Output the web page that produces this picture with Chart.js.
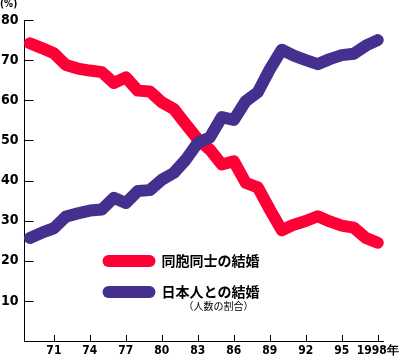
<!DOCTYPE html>
<html><head><meta charset="utf-8">
<script src="https://cdn.jsdelivr.net/npm/chart.js@4/dist/chart.umd.min.js"></script>
<style>html,body{margin:0;padding:0;background:#fff;}#wrap{width:402px;height:356px;}</style>
</head><body><div id="wrap"><canvas id="c" width="402" height="356"></canvas></div>
<script>
const years = [1969,1970,1971,1972,1973,1974,1975,1976,1977,1978,1979,1980,1981,1982,1983,1984,1985,1986,1987,1988,1989,1990,1991,1992,1993,1994,1995,1996,1997,1998];
const sameEthnic = [74.2,73,71.7,68.8,67.9,67.4,67,64.3,65.7,62.4,62.2,59.5,57.8,54,50.3,47.7,44,44.8,39.4,38.3,32.8,27.6,29,29.9,31.1,29.8,28.75,28.25,25.7,24.5];
const withJapanese = [25.7,27,28.1,31,31.8,32.5,32.75,35.7,34.4,37.4,37.6,40.2,41.9,45.2,49.4,50.7,55.8,55.1,59.8,62,67.7,72.6,71.1,70,69,70.25,71.25,71.6,73.6,75];
const xTickValues = [1971,1974,1977,1980,1983,1986,1989,1992,1995,1998];
const xTickLabels = ['71','74','77','80','83','86','89','92','95','1998年'];
const yTickValues = [10,20,30,40,50,60,70,80];
const seriesNames = ['同胞同士の結婚','日本人との結婚'];
const seriesNote = '（人数の割合）';
const unitLabel = '(%)';

const RED = '#ff0036', PURPLE = '#452f8f';
const NUM_FONT = '"DejaVu Sans Condensed","DejaVu Sans",sans-serif';
const JP_FONT = '"Noto Sans CJK JP",sans-serif';

const extras = {
  id: 'extras',
  beforeDatasetsDraw(chart) {
    const {ctx, chartArea:a, scales:{x, y}} = chart;
    ctx.save();
    ctx.strokeStyle = '#000'; ctx.lineWidth = 1;
    ctx.beginPath();
    yTickValues.forEach(v => { const p = Math.round(y.getPixelForValue(v)) + 0.5; ctx.moveTo(a.left, p); ctx.lineTo(a.left + 9, p); });
    xTickValues.forEach(v => { const p = Math.round(x.getPixelForValue(v)) + 0.5; ctx.moveTo(p, a.bottom); ctx.lineTo(p, a.bottom - 6); });
    ctx.stroke();
    ctx.fillStyle = '#000';
    ctx.font = 'bold 10px ' + NUM_FONT;
    ctx.textAlign = 'left'; ctx.textBaseline = 'top';
    ctx.fillText(unitLabel, 0, -1);
    ctx.restore();
  },
  afterDraw(chart) {
    const {ctx, chartArea:a} = chart;
    const ds = chart.data.datasets;
    ctx.save();
    const x0 = a.left + 78, x1 = a.left + 131;
    const rows = [{i:0, y: a.top + 241}, {i:1, y: a.top + 272}];
    rows.forEach(r => {
      ctx.strokeStyle = ds[r.i].borderColor; ctx.lineWidth = 12; ctx.lineCap = 'round';
      ctx.beginPath(); ctx.moveTo(x0 + 6, r.y); ctx.lineTo(x1 - 6, r.y); ctx.stroke();
      ctx.fillStyle = '#000'; ctx.font = 'bold 14px ' + JP_FONT;
      ctx.textAlign = 'left'; ctx.textBaseline = 'middle';
      ctx.fillText(ds[r.i].label, x1 + 6, r.y);
    });
    ctx.font = '10px ' + JP_FONT; ctx.textBaseline = 'middle';
    ctx.fillText(seriesNote, x1 + 28, a.top + 286);
    ctx.restore();
  }
};

new Chart(document.getElementById('c'), {
  type: 'line',
  data: {
    labels: years,
    datasets: [
      {label: seriesNames[0], data: years.map((yr,i)=>({x:yr, y:sameEthnic[i]})), borderColor: RED, order: 2},
      {label: seriesNames[1], data: years.map((yr,i)=>({x:yr, y:withJapanese[i]})), borderColor: PURPLE, order: 1}
    ].map(d => Object.assign(d, {borderWidth: 12, pointRadius: 0, tension: 0, fill: false, borderCapStyle: 'round', borderJoinStyle: 'round', clip: false}))
  },
  options: {
    responsive: false, animation: false, devicePixelRatio: 1,
    layout: {padding: {top: 20, right: 15, left: 0, bottom: 0}},
    plugins: {legend: {display: false}, tooltip: {enabled: false}},
    scales: {
      x: {
        type: 'linear', min: 1968.55, max: 1998.5,
        grid: {display: false, drawTicks: false},
        border: {display: true, color: '#000', width: 1},
        afterBuildTicks: s => { s.ticks = xTickValues.map(v => ({value: v})); },
        afterFit: s => { s.height = 15; },
        ticks: {padding: 3, autoSkip: false, maxRotation: 0, color: '#000', font: {family: NUM_FONT, size: 12, weight: 'bold'},
          callback: v => xTickLabels[xTickValues.indexOf(v)]}
      },
      y: {
        min: 0, max: 80,
        grid: {display: false, drawTicks: false},
        border: {display: true, color: '#000', width: 1},
        afterBuildTicks: s => { s.ticks = yTickValues.map(v => ({value: v})); },
        afterFit: s => { s.width = 24.5; },
        ticks: {padding: 6, color: '#000', font: {family: NUM_FONT, size: 14, weight: 'bold'}}
      }
    }
  },
  plugins: [extras]
});
</script></body></html>
